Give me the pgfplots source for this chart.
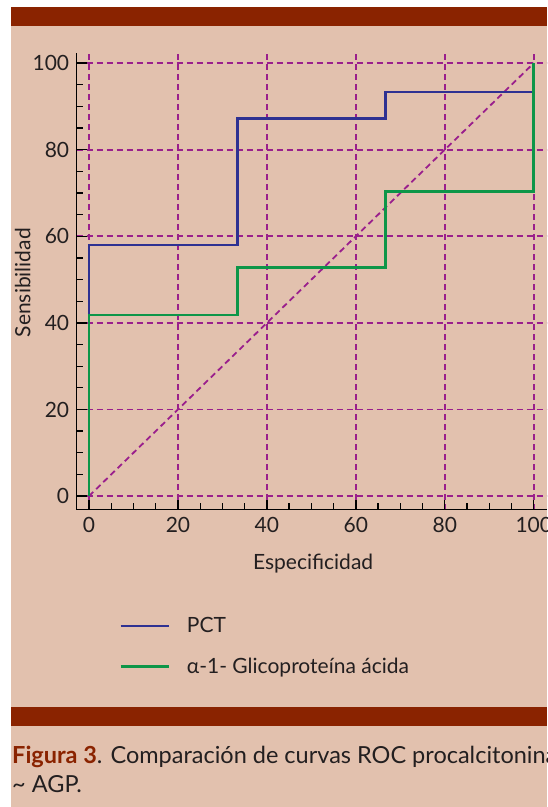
\documentclass[border=0pt]{standalone}
\usepackage{pgfplots}
\pgfplotsset{compat=1.18}
\usepackage{fontspec}
\setmainfont{Lato}
\definecolor{bg}{HTML}{E2C1AE}
\definecolor{barc}{HTML}{8A2300}
\definecolor{gridc}{HTML}{9A1F8C}
\definecolor{pct}{HTML}{2E3192}
\definecolor{agp}{HTML}{0D9648}
\definecolor{txt}{HTML}{231F20}
\begin{document}
\begin{tikzpicture}[x=1pt,y=1pt]
\useasboundingbox (0,0) rectangle (547,-807);
\fill[white] (0,0) rectangle (547,-807);
\fill[bg] (11,-7) rectangle (547,-807);
\fill[barc] (11,-7) rectangle (547,-26);
\fill[barc] (11,-707) rectangle (547,-726);
\begin{scope}
\clip (0,0) rectangle (547,-807);
\begin{axis}[
  at={(76.7pt,-509.5pt)}, anchor=south west,
  scale only axis, width=470pt, height=456.4pt,
  xmin=-2.76, xmax=102.9, ymin=-3.1, ymax=102.3,
  axis x line*=bottom, axis y line*=left,
  axis line style={-, black, line width=1.4pt},
  xtick={0,20,...,100}, ytick={0,20,...,100},
  minor tick num=3, tick align=inside,
  major tick length=10pt, minor tick length=6.5pt,
  every tick/.style={black, line width=1.3pt},
  grid=major,
  major grid style={gridc, dash pattern=on 6pt off 4pt, line width=1.8pt},
  /pgf/number format/assume math mode=true,
  ticklabel style={font=\fontsize{21}{24}\selectfont, text=txt},
  yticklabel style={xshift=-4pt},
  xticklabel style={yshift=-4pt},
  label style={font=\fontsize{21}{24}\selectfont, text=txt},
  xlabel={Especificidad}, ylabel={Sensibilidad},
  xlabel style={at={(axis description cs:0.503,-0.118)}, anchor=center},
  ylabel style={at={(axis description cs:-0.115,0.497)}, anchor=center},
  legend style={at={(axis description cs:0.09,-0.232)}, anchor=north west,
    draw=none, fill=none, font=\fontsize{21}{24}\selectfont, text=txt,
    row sep=20pt, column sep=15pt, inner sep=0pt},
  legend cell align=left,
  legend image code/.code={\draw[#1] (0pt,0pt) -- (48pt,0pt);},
  clip=false,
]
\addplot[gridc, dash pattern=on 6pt off 4pt, line width=1.8pt, forget plot] coordinates {(0,0) (100,100)};
\addplot[pct, line width=2.8pt] coordinates {
(0,0) (0,58) (33.3,58) (33.3,87.2) (66.7,87.2) (66.7,93.3) (100,93.3) (100,100)};
\addplot[agp, line width=2.8pt] coordinates {
(0,0) (0,41.8) (33.3,41.8) (33.3,52.7) (66.7,52.7) (66.7,70.4) (100,70.4) (100,100)};
\legend{PCT, α-1- Glicoproteína ácida}
\end{axis}
\node[anchor=base west, inner sep=0pt, font=\fontsize{23.5}{26}\selectfont, text=txt] at (12,-763)
  {\textcolor{barc}{\textbf{Figura 3}}. Comparación de curvas ROC procalcitonina};
\node[anchor=base west, inner sep=0pt, font=\fontsize{23.5}{26}\selectfont, text=txt] at (12,-792)
  {\textasciitilde\ AGP.};
\end{scope}
\end{tikzpicture}
\end{document}
